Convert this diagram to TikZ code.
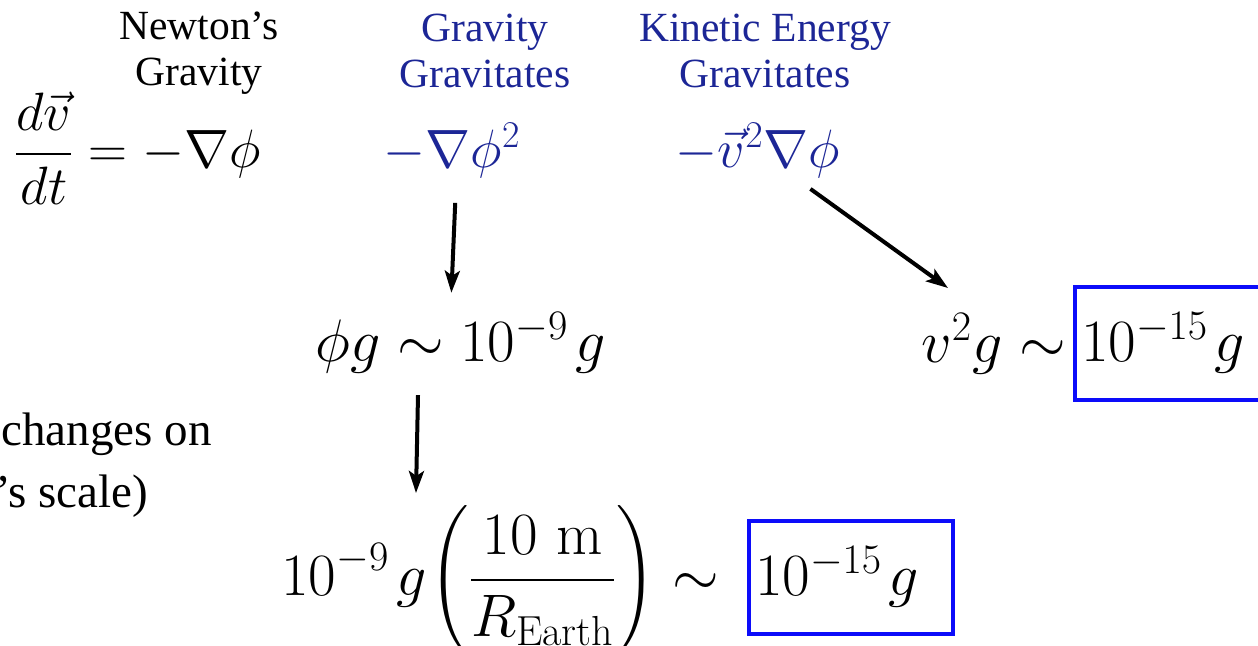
\RequirePackage{fix-cm}
\documentclass[tikz,border=0pt]{standalone}
\usepackage{exscale}
\usepackage{fontspec}
\newfontfamily\timesfont{Liberation Serif}
\usetikzlibrary{arrows.meta, calc}
\definecolor{gravBlue}{RGB}{28,38,150}
\definecolor{boxBlue}{RGB}{12,12,250}

\begin{document}
\begin{tikzpicture}[x=0.5pt, y=-0.5pt,
  hdr/.style={font=\timesfont\fontsize{20.75}{23}\selectfont, align=center, inner sep=0pt},
  side/.style={font=\timesfont\fontsize{23.5}{28}\selectfont, anchor=base west, inner sep=0pt},
  eqtop/.style={font=\fontsize{27}{32}\selectfont, anchor=base west, inner sep=0pt},
  eqbig/.style={font=\fontsize{30}{36}\selectfont, anchor=base west, inner sep=0pt},
  valbox/.style={draw=boxBlue, line width=2pt, anchor=west, inner xsep=3pt, inner ysep=0pt,
    text width=96pt, align=left, minimum height=56.5pt, font=\fontsize{30}{36}\selectfont},
  arr/.style={-{Stealth[length=11pt, width=7.5pt, inset=2.5pt]}, line width=2pt}
]
\useasboundingbox (0,0) rectangle (1258,645);

% column headers
\node[hdr] (hnewton) at (199,53) {Newton’s\\Gravity};
\node[hdr, text=gravBlue] (hselfg) at (485,51) {Gravity\\Gravitates};
\node[hdr, text=gravBlue] (hkin) at (765,51) {Kinetic Energy\\Gravitates};

% top row
\node[eqtop] (newton) at (13.6,167) {$\displaystyle\frac{d\vec{v}}{dt} = -\nabla\phi$};
\node[eqtop, text=gravBlue] (selfg) at (383.5,167) {$-\nabla\phi^2$};
\node[eqtop, text=gravBlue] (kin) at (675.5,167) {$-\vec{v}^2\nabla\phi$};

% estimates
\node[eqbig] (phig) at (315,361) {$\phi g \sim 10^{-9}\mkern2mu g$};
\node[eqbig] (v2g) at (921,362) {$v^2 g \sim$};
\node[valbox] (box1) at (1073,343) {$10^{-15}\mkern2mu g$};
\node[eqbig] (earth) at (281,595) {$\displaystyle 10^{-9}\mkern2mu g\mkern-2mu
  \left(\vrule height 37.5pt depth 22.5pt width 0pt\frac{10\ \mathrm{m}}{R_{\mathrm{Earth}}}\right) \sim$};
\node[valbox] (box2) at (747,577) {$10^{-15}\mkern2mu g$};

% side note
\node[side] (chg) at (1,445) {changes on};
\node[side] (scl) at (-5,507) {’s scale)};

\draw[arr] ($(selfg.south)+(3,25)$) -- ($(phig.north)+(-9,-19)$);
\draw[arr] ($(phig.south west)+(103,22)$) -- ($(earth.base west)+(135,-102)$);
\draw[arr] ($(kin.south east)+(-30,11)$) -- ($(v2g.base west)+(27,-74)$);
\end{tikzpicture}
\end{document}
